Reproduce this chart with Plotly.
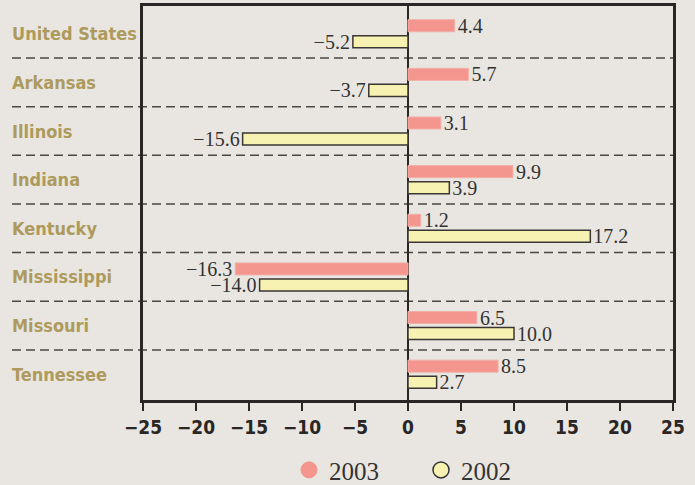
import plotly.graph_objects as go

states = ["United States", "Arkansas", "Illinois", "Indiana", "Kentucky",
          "Mississippi", "Missouri", "Tennessee"]
v2003 = [4.4, 5.7, 3.1, 9.9, 1.2, -16.3, 6.5, 8.5]
v2002 = [-5.2, -3.7, -15.6, 3.9, 17.2, -14.0, 10.0, 2.7]
xticks = [-25, -20, -15, -10, -5, 0, 5, 10, 15, 20, 25]

def fmt(v):
    return f"{v:.1f}".replace("-", "\u2212")

BG = "#e9e6e1"
SALMON = "#f4968e"
YELLOW = "#f7f2b1"
DARK = "#2a2625"
TAN = "#ad9a5c"
SERIF = "Liberation Serif, DejaVu Serif, serif"
COND = "DejaVu Sans Condensed, DejaVu Sans, sans-serif"

fig = go.Figure()
fig.add_trace(go.Bar(
    y=states, x=v2003, orientation="h", name="2003",
    marker=dict(color=SALMON, line=dict(color="#f0b0a8", width=1)),
    text=[fmt(v) for v in v2003], textposition="outside",
    constraintext="none",
    textfont=dict(family=SERIF, size=20, color="#333"),
    cliponaxis=False, showlegend=False,
))
fig.add_trace(go.Bar(
    y=states, x=v2002, orientation="h", name="2002",
    marker=dict(color=YELLOW, line=dict(color="#3a3634", width=1.5)),
    text=[fmt(v) for v in v2002], textposition="outside",
    constraintext="none",
    textfont=dict(family=SERIF, size=20, color="#333"),
    cliponaxis=False, showlegend=False,
))
# legend entries
fig.add_trace(go.Scatter(x=[None], y=[None], mode="markers", name="2003",
                         marker=dict(symbol="circle", size=22, color=SALMON,
                                     line=dict(color=SALMON, width=1))))
fig.add_trace(go.Scatter(x=[None], y=[None], mode="markers", name="2002",
                         marker=dict(symbol="circle", size=22, color=YELLOW,
                                     line=dict(color="#333", width=1.5))))

L, R, T, B = 143, 22, 6, 85
W, H = 695, 485
pw = W - L - R
x0_paper = (12 - L) / pw

shapes = []
for i in range(len(states) - 1):
    shapes.append(dict(type="line", xref="paper", yref="y",
                       x0=x0_paper, x1=1, y0=i + 0.5, y1=i + 0.5,
                       line=dict(color="#4a4646", width=1.5, dash="9px,5px"),
                       layer="below"))

annotations = []
for s in states:
    annotations.append(dict(xref="paper", yref="y", x=x0_paper, y=s,
                            text=s, showarrow=False, xanchor="left",
                            yanchor="middle", xshift=-2,
                            font=dict(family=COND, size=18, color=TAN,
                                      weight="bold")))

fig.update_layout(
    width=W, height=H,
    margin=dict(l=L, r=R, t=T, b=B, autoexpand=False),
    paper_bgcolor=BG, plot_bgcolor=BG,
    barmode="group", bargap=0.34, bargroupgap=0.25,
    shapes=shapes, annotations=annotations,
    showlegend=True,
    legend=dict(orientation="h", x=(289 - L) / pw, xanchor="left", y=-0.178,
                yanchor="middle", font=dict(family=SERIF, size=25, color="#333"),
                bgcolor="rgba(0,0,0,0)", itemsizing="trace",
                entrywidth=87, entrywidthmode="pixels"),
    xaxis=dict(range=[-25, 25], tickvals=xticks,
               ticktext=[str(t).replace("-", "\u2212") for t in xticks],
               ticks="outside", ticklen=8, tickwidth=2, tickcolor=DARK,
               showline=True, linewidth=3, linecolor=DARK, mirror=True,
               showgrid=False, zeroline=True, zerolinecolor=DARK,
               zerolinewidth=2,
               tickfont=dict(family=COND, size=19, color=DARK, weight="bold")),
    yaxis=dict(categoryorder="array", categoryarray=states,
               range=[7.53, -0.57], showticklabels=False, ticks="",
               showline=True, linewidth=3, linecolor=DARK, mirror=True,
               showgrid=False, zeroline=False),
)

fig.write_html("out.html", config={"displayModeBar": False},
               post_script="document.body.style.margin='0';")
